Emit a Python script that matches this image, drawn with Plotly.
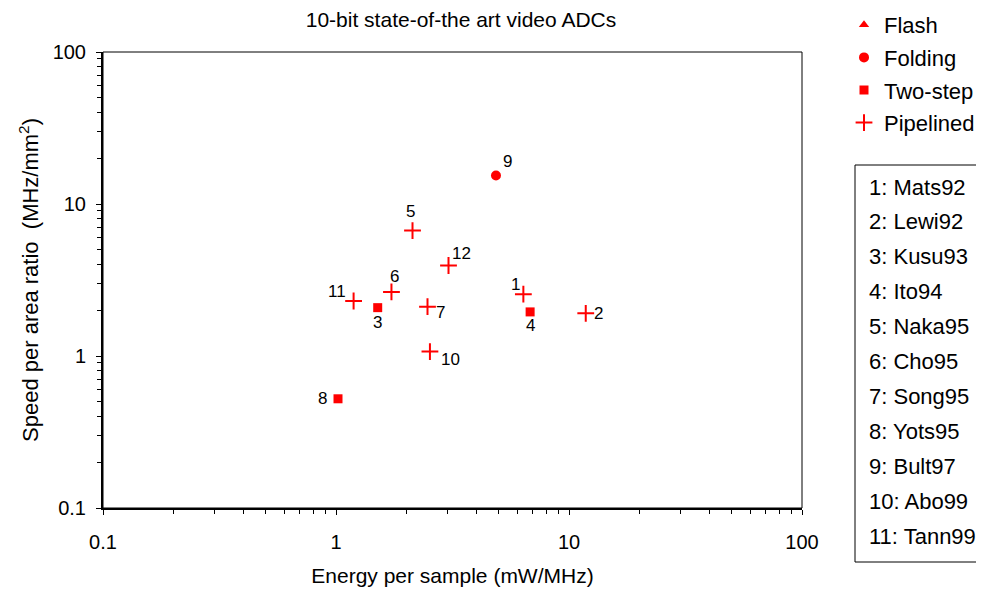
import math
import plotly.graph_objects as go

# ---- data ----
types = ["Flash", "Folding", "Two-step", "Pipelined"]
ids = [1, 2, 3, 4, 5, 6, 7, 8, 9, 10, 11, 12]
energy = [6.37, 11.8, 1.51, 6.81, 2.13, 1.73, 2.47, 1.02, 4.86, 2.53, 1.19, 3.04]
speed_area = [2.55, 1.91, 2.08, 1.95, 6.69, 2.64, 2.11, 0.523, 15.4, 1.07, 2.30, 3.94]
adc_type = ["Pipelined", "Pipelined", "Two-step", "Two-step", "Pipelined", "Pipelined",
            "Pipelined", "Two-step", "Folding", "Pipelined", "Pipelined", "Pipelined"]
references = ["1: Mats92", "2: Lewi92", "3: Kusu93", "4: Ito94", "5: Naka95", "6: Cho95",
              "7: Song95", "8: Yots95", "9: Bult97", "10: Abo99", "11: Tann99"]
tick_vals = [0.1, 1, 10, 100]
tick_text = ["0.1", "1", "10", "100"]
minor_vals = [d * m for d in (0.1, 1, 10) for m in range(2, 10)]

# ---- styles ----
label_offsets = {1: (-8, 10), 2: (13, 0), 3: (0, -15), 4: (0, -14), 5: (-2, 19), 6: (3, 15),
                 7: (13, -6), 8: (-16, 0), 9: (12, 14), 10: (21, -8), 11: (-17, 10), 12: (13, 12)}
symbols = {"Flash": "triangle-up", "Folding": "circle", "Two-step": "square", "Pipelined": "cross-thin"}
sizes = {"Flash": 9, "Folding": 10, "Two-step": 9, "Pipelined": 12}
RED = "#ff0000"
FONT = "Liberation Sans, Arial, sans-serif"

OFF = 8  # page body margin
FW, FH = 984 - OFF, 589 - OFF
L, R, T, B = 103 - OFF, 802 - OFF, 52 - OFF, 508 - OFF
W, H = R - L, B - T


def px(xp):
    return (xp - OFF - L) / W


def py(yp):
    return (B - (yp - OFF)) / H


fig = go.Figure()
for t in types:
    xs = [e for e, a in zip(energy, adc_type) if a == t]
    ys = [s for s, a in zip(speed_area, adc_type) if a == t]
    if not xs:
        xs, ys = [None], [None]
    marker = dict(symbol=symbols[t], size=sizes[t], color=RED,
                  line=dict(color=RED, width=2 if t == "Pipelined" else 0))
    fig.add_trace(go.Scatter(x=xs, y=ys, mode="markers", name=t, marker=marker,
                             legendgroup=t, cliponaxis=False))

for i, e, s in zip(ids, energy, speed_area):
    dx, dy = label_offsets[i]
    fig.add_annotation(x=math.log10(e), y=math.log10(s), xref="x", yref="y", text=str(i),
                       showarrow=False, xshift=dx, yshift=dy,
                       font=dict(size=17, color="black", family=FONT))

# reference box
fig.add_shape(type="rect", xref="paper", yref="paper", x0=px(855), x1=px(995), y0=py(562), y1=py(165),
              line=dict(color="black", width=1))
for k, r in enumerate(references):
    fig.add_annotation(xref="paper", yref="paper", x=px(867), y=py(187 + 34.9 * k), text=r,
                       showarrow=False, xanchor="left", yanchor="middle",
                       font=dict(size=22, color="black", family=FONT))

# plot frame (top/right thin)
fig.add_shape(type="rect", xref="paper", yref="paper", x0=0, x1=1, y0=0, y1=1,
              line=dict(color="black", width=1), layer="above")

axis_common = dict(type="log", range=[-1, 2], tickvals=tick_vals, ticktext=tick_text,
                   showgrid=False, zeroline=False, showline=True, linecolor="black", linewidth=2,
                   ticks="outside", ticklen=5, tickwidth=1, tickcolor="black",
                   minor=dict(tickvals=minor_vals, ticks="outside", ticklen=4, tickwidth=1,
                              tickcolor="black", showgrid=False),
                   tickfont=dict(size=20, color="black", family=FONT))

fig.update_layout(
    width=FW, height=FH,
    margin=dict(l=L, r=FW - R, t=T, b=FH - B, autoexpand=False),
    paper_bgcolor="white", plot_bgcolor="white",
    font=dict(family=FONT, color="black", size=18),
    title=dict(text="10-bit state-of-the art video ADCs", xref="paper", x=px(461), xanchor="center",
               y=1 - 4 / FH, yanchor="top", font=dict(size=21)),
    xaxis=dict(**axis_common, ticklabelstandoff=10,
               title=dict(text="Energy per sample (mW/MHz)", standoff=16, font=dict(size=21))),
    yaxis=dict(**axis_common, ticklabelstandoff=6,
               title=dict(text="Speed per area ratio  (MHz/mm<sup>2</sup>)",
                          standoff=8, font=dict(size=22))),
    legend=dict(x=px(844), y=py(4), xanchor="left", yanchor="top", tracegroupgap=1,
                font=dict(size=22, family=FONT), bgcolor="rgba(0,0,0,0)", itemwidth=30),
    showlegend=True,
)

fig.write_html("out.html")
